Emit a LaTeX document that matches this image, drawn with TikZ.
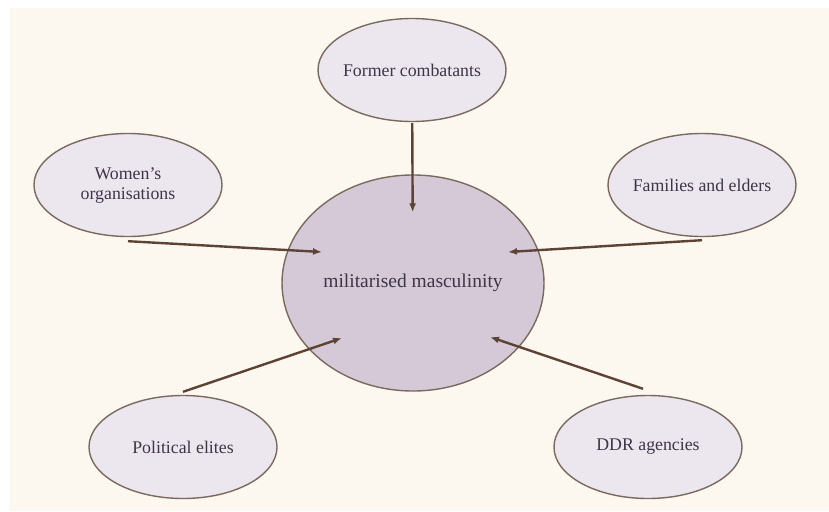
\documentclass[tikz,border=0pt]{standalone}
\usepackage{fontspec}
\setmainfont{Liberation Serif}
\usetikzlibrary{arrows.meta, positioning, shapes.geometric}

\definecolor{paper}{HTML}{FCF7EF}
\definecolor{outerfill}{HTML}{ECE6EF}
\definecolor{hubfill}{HTML}{D5C9D8}
\definecolor{rim}{HTML}{7A6A5E}
\definecolor{shaft}{HTML}{5C4333}
\definecolor{ink}{HTML}{3E3545}

\begin{document}
\begin{tikzpicture}[
		x=1pt, y=-1pt,
		every node/.style={ellipse, draw=rim, line width=1.4pt, text=ink, align=center, inner sep=-4pt,
			font=\fontsize{17.8}{20}\selectfont},
		actor/.style={fill=outerfill, minimum width=188pt, minimum height=103pt},
		hub/.style={fill=hubfill, minimum width=262pt, minimum height=216pt,
			font=\fontsize{19.5}{22}\selectfont},
		arrow/.style={-{Latex[length=9pt, width=7pt]}, line width=2.4pt, draw=shaft}
	]
	
		% Background
		\useasboundingbox (0,0) rectangle (829,511);
		\fill[white] (0,0) rectangle (829,511);
		\fill[paper] (10,8) rectangle (829,511);
	
		% Nodes
		\node[hub] (mm) at (413,283) {militarised masculinity};
		\node[actor] (former) at (412,70) {Former combatants};
		\node[actor] (women) at (128,185) {Women's\\organisations};
		\node[actor] (families) at (702,185) {Families and elders};
		\node[actor] (political) at (183,447) {Political elites};
		\node[actor] (ddr) at (648,447) {DDR agencies};
		
		% Arrow tips inside the hub
		\coordinate (tipW) at (322,252);
		\coordinate (tipF) at (508,252);
		\coordinate (tipP) at (342,338);
		\coordinate (tipD) at (490,337);
		
		% Arrows
		\draw[arrow, shorten >=-38pt, shorten <=1pt] (former) -- (mm);
		\draw[arrow] ([yshift=-4pt]women.south) -- (tipW);
		\draw[arrow] ([yshift=-3pt]families.south) -- (tipF);
		\draw[arrow] ([yshift=3pt]political.north) -- (tipP);
		\draw[arrow] ([xshift=-5pt,yshift=6pt]ddr.north) -- (tipD);

	\end{tikzpicture}
\end{document}
